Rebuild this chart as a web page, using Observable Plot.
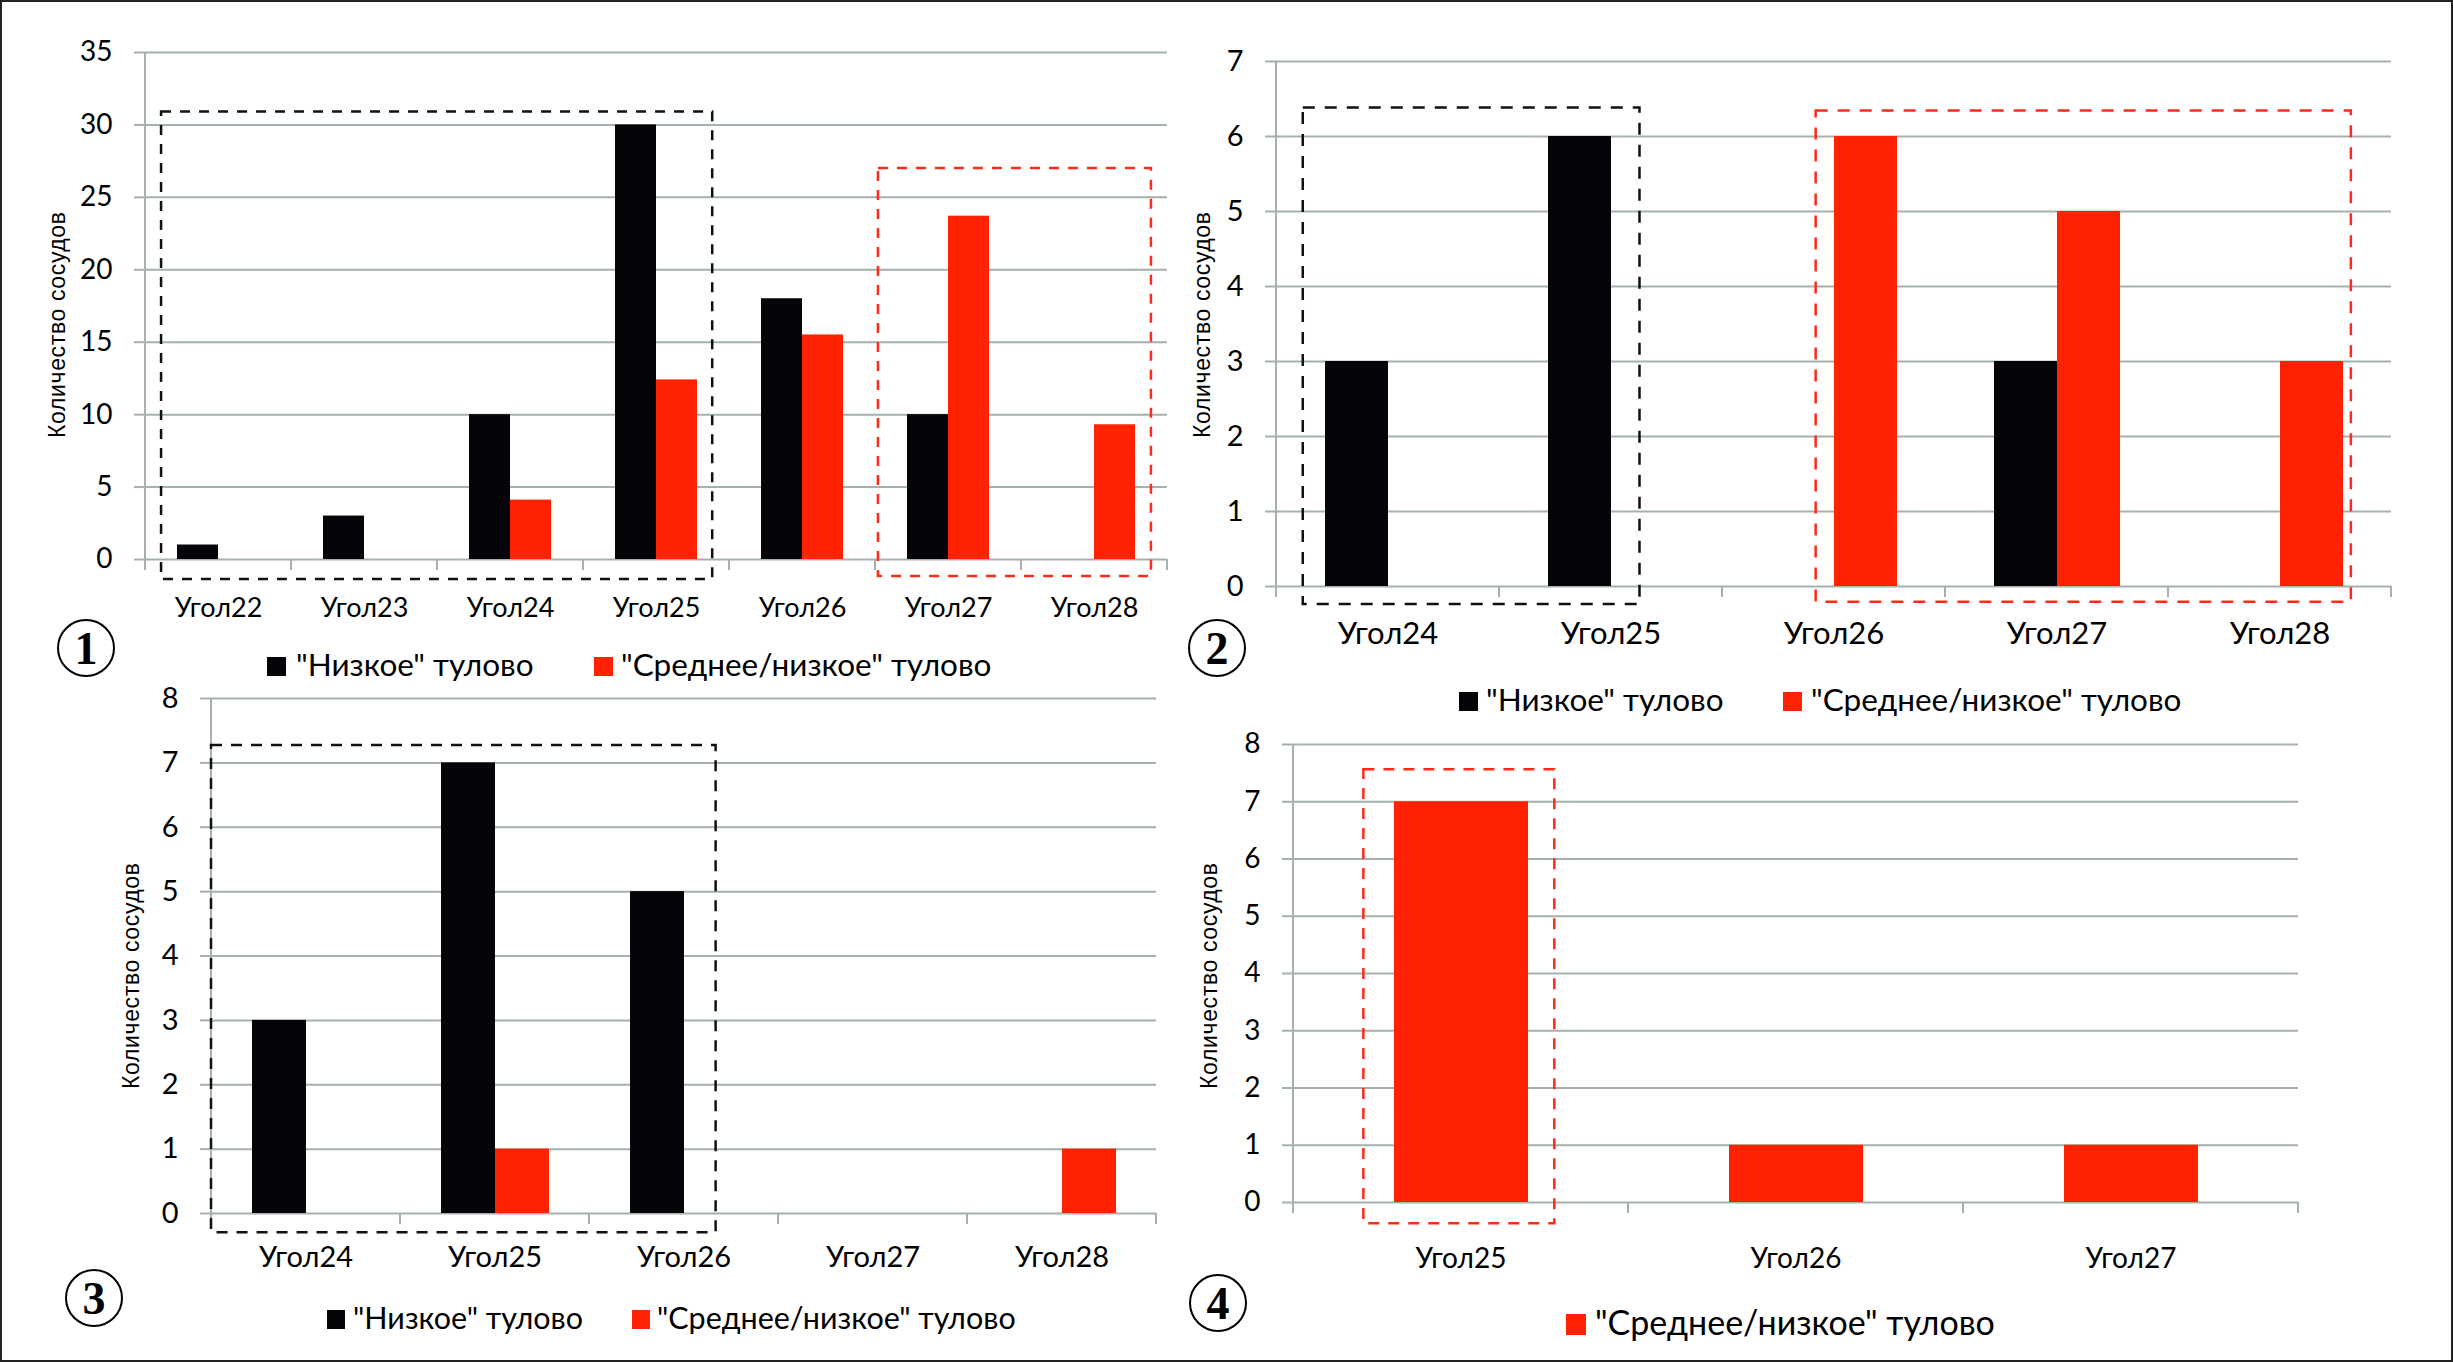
<!DOCTYPE html>
<html><head><meta charset="utf-8">
<script src="https://cdn.jsdelivr.net/npm/d3@7"></script>
<script src="https://cdn.jsdelivr.net/npm/@observablehq/plot@0.6"></script>
<style>
body{margin:0;background:#fff;}
#fig{position:relative;width:2453px;height:1362px;overflow:hidden;background:#fff;font-family:Lato,sans-serif;}
#fig svg{position:absolute;left:0;top:0;}
#frame{position:absolute;left:0;top:0;right:0;bottom:0;border:2px solid #222;pointer-events:none;}
.sq{position:absolute;}
.lt{position:absolute;white-space:nowrap;color:#000;line-height:1;transform:translateY(-55%);font-family:Lato,sans-serif;}
.num{position:absolute;border:2.5px solid #000;border-radius:50%;display:flex;align-items:center;justify-content:center;font-family:"Liberation Serif",serif;font-weight:bold;box-sizing:border-box;color:#000;}
</style></head>
<body><div id="fig"></div>
<script>
// ---------- data ----------
const SERIES = ["\"Низкое\" тулово", "\"Среднее/низкое\" тулово"];
const Y_TITLE = "Количество сосудов";

const cats1 = ["Угол22","Угол23","Угол24","Угол25","Угол26","Угол27","Угол28"];
const low1  = [1, 3, 10, 30, 18, 10, 0];
const mid1  = [0, 0, 4.1, 12.4, 15.5, 23.7, 9.3];
const ticks1 = [0, 5, 10, 15, 20, 25, 30, 35];

const cats2 = ["Угол24","Угол25","Угол26","Угол27","Угол28"];
const low2  = [3, 6, 0, 3, 0];
const mid2  = [0, 0, 6, 5, 3];
const ticks2 = [0, 1, 2, 3, 4, 5, 6, 7];

const cats3 = ["Угол24","Угол25","Угол26","Угол27","Угол28"];
const low3  = [3, 7, 5, 0, 0];
const mid3  = [0, 1, 0, 0, 1];
const ticks3 = [0, 1, 2, 3, 4, 5, 6, 7, 8];

const cats4 = ["Угол25","Угол26","Угол27"];
const mid4  = [7, 1, 1];
const ticks4 = [0, 1, 2, 3, 4, 5, 6, 7, 8];

// dashed annotation boxes: category span and value span
const boxes1 = [
  {from:"Угол22", to:"Угол25", top:30.9, bottom:-1.38, kind:"low", inL:0.11, inR:0.115},
  {from:"Угол27", to:"Угол28", top:27.0, bottom:-1.17, kind:"mid", inL:0.02, inR:0.11}
];
const boxes2 = [
  {from:"Угол24", to:"Угол25", top:6.38, bottom:-0.24, kind:"low", inL:0.12, inR:0.37},
  {from:"Угол26", to:"Угол28", top:6.34, bottom:-0.21, kind:"mid", inL:0.42, inR:0.18}
];
const boxes3 = [
  {from:"Угол24", to:"Угол26", top:7.27, bottom:-0.3, kind:"low", inL:0.0, inR:0.33}
];
const boxes4 = [
  {from:"Угол25", to:"Угол25", top:7.56, bottom:-0.37, kind:"mid", inL:0.21, inR:0.22}
];

// ---------- style ----------
const BLACK = "#050409", RED = "#ff2200", GRID = "#a6b1ae";
const BOXCOL = {low:"#111", mid:"#ff2a1a"};
const W = 2453, H = 1362, TICK = 11;

const fig = document.getElementById("fig");

function chart(cfg) {
  const rows = cfg.series.flatMap(([s, vals]) => cfg.cats.map((c, i) => ({cat: c, s, v: vals[i]})));
  const keys = cfg.series.map(d => d[0]);
  const yMax = cfg.yTicks[cfg.yTicks.length - 1];
  const p = Plot.plot({
    width: W, height: H,
    marginLeft: cfg.mL, marginRight: cfg.mR, marginTop: cfg.mT, marginBottom: cfg.mB,
    style: {fontFamily: "Lato, sans-serif", fontSize: cfg.tickFont + "px", color: "#000", background: "transparent", overflow: "visible"},
    fx: {domain: cfg.cats, padding: 0, label: null, axis: "bottom", tickSize: 0, tickPadding: cfg.catPad},
    x: {domain: keys, paddingInner: 0, paddingOuter: 0.75, axis: null},
    y: {domain: [0, yMax], ticks: cfg.yTicks, tickSize: TICK, tickPadding: 22, label: null, tickFormat: d => String(d)},
    color: {domain: SERIES, range: [BLACK, RED]},
    marks: [
      Plot.ruleY(cfg.yTicks, {stroke: GRID, strokeWidth: 2}),
      Plot.barY(rows, {fx: "cat", x: "s", y: "v", fill: "s"})
    ]
  });
  fig.appendChild(p);
  const svg = d3.select(p);
  svg.selectAll('g[aria-label^="y-axis"] path, g[aria-label^="y-axis"] line').attr("stroke", GRID).attr("stroke-width", 2);
  svg.selectAll('g[aria-label^="fx-axis"] text').attr("font-size", cfg.catFont);

  const fx = p.scale("fx"), y = p.scale("y");
  const bw = fx.bandwidth;
  const x0 = fx.apply(cfg.cats[0]);
  const xEnd = fx.apply(cfg.cats[cfg.cats.length - 1]) + bw;
  const y0 = y.apply(0), yTop = y.apply(yMax);
  const g = svg.append("g");
  g.append("line").attr("x1", x0).attr("x2", x0).attr("y1", yTop).attr("y2", y0 + TICK)
    .attr("stroke", GRID).attr("stroke-width", 2);
  const bounds = cfg.cats.map(c => fx.apply(c)).concat([xEnd]);
  g.selectAll("line.bt").data(bounds).join("line").attr("class", "bt")
    .attr("x1", d => d).attr("x2", d => d).attr("y1", y0).attr("y2", y0 + TICK)
    .attr("stroke", GRID).attr("stroke-width", 2);
  for (const b of cfg.boxes) {
    const xa = fx.apply(b.from) + b.inL * bw;
    const xb = fx.apply(b.to) + (1 - b.inR) * bw;
    const ya = y.apply(b.top), yb = y.apply(b.bottom);
    g.append("rect").attr("x", xa).attr("y", ya).attr("width", xb - xa).attr("height", yb - ya)
      .attr("fill", "none").attr("stroke", BOXCOL[b.kind]).attr("stroke-width", 2.5)
      .attr("stroke-dasharray", cfg.dash);
  }
  g.append("text")
    .attr("transform", `translate(${cfg.ylab[0]},${cfg.ylab[1]}) rotate(-90)`)
    .attr("text-anchor", "middle").attr("dominant-baseline", "central")
    .attr("font-family", "'Liberation Sans', Arial, sans-serif").attr("font-size", 23)
    .attr("textLength", 226).attr("lengthAdjust", "spacing")
    .attr("fill", "#000")
    .text(Y_TITLE);
}

chart({cats: cats1, series: [[SERIES[0], low1], [SERIES[1], mid1]], yTicks: ticks1, boxes: boxes1,
  mL: 143, mR: W - 1168, mT: 52, mB: H - 559, tickFont: 28, catFont: 27, catPad: 38, ylab: [57, 325], dash: "10,9"});
chart({cats: cats2, series: [[SERIES[0], low2], [SERIES[1], mid2]], yTicks: ticks2, boxes: boxes2,
  mL: 1275, mR: W - 2392, mT: 61, mB: H - 586, tickFont: 29, catFont: 31, catPad: 35, ylab: [1202, 325], dash: "12,10"});
chart({cats: cats3, series: [[SERIES[0], low3], [SERIES[1], mid3]], yTicks: ticks3, boxes: boxes3,
  mL: 209, mR: W - 1158, mT: 698, mB: H - 1213, tickFont: 29, catFont: 29, catPad: 33, ylab: [131, 976], dash: "11,9"});
chart({cats: cats4, series: [[SERIES[1], mid4]], yTicks: ticks4, boxes: boxes4,
  mL: 1292, mR: W - 2298, mT: 744, mB: H - 1202, tickFont: 28, catFont: 28, catPad: 46, ylab: [1209, 976], dash: "11,9"});

// ---------- legends ----------
function legendItem(name, color, sx, sw, sh, tx, cy, fs) {
  const s = document.createElement("div");
  s.className = "sq";
  Object.assign(s.style, {left: sx + "px", top: (cy - sh / 2) + "px", width: sw + "px", height: sh + "px", background: color});
  fig.appendChild(s);
  const t = document.createElement("div");
  t.className = "lt";
  Object.assign(t.style, {left: tx + "px", top: cy + "px", fontSize: fs + "px"});
  t.textContent = name;
  fig.appendChild(t);
}
legendItem(SERIES[0], BLACK, 267, 19, 19, 296, 666, 31.5);
legendItem(SERIES[1], RED,   594, 19, 19, 621, 666, 31.5);
legendItem(SERIES[0], BLACK, 1459, 19, 19, 1486, 701, 31.5);
legendItem(SERIES[1], RED,   1783, 19, 19, 1811, 701, 31.5);
legendItem(SERIES[0], BLACK, 327, 18, 19, 353, 1319, 30.5);
legendItem(SERIES[1], RED,   632, 18, 19, 657, 1319, 30.5);
legendItem(SERIES[1], RED,   1566, 20, 21, 1595, 1324, 34);

// ---------- panel numbers ----------
[["1", 86, 648], ["2", 1217, 648], ["3", 94, 1298], ["4", 1218, 1303]].forEach(([n, cx, cy]) => {
  const r = 29;
  const d = document.createElement("div");
  d.className = "num";
  Object.assign(d.style, {left: (cx - r) + "px", top: (cy - r) + "px", width: 2 * r + "px", height: 2 * r + "px", fontSize: "46px"});
  d.textContent = n;
  fig.appendChild(d);
});
const fr = document.createElement("div");
fr.id = "frame";
fig.appendChild(fr);
</script>
</body></html>
